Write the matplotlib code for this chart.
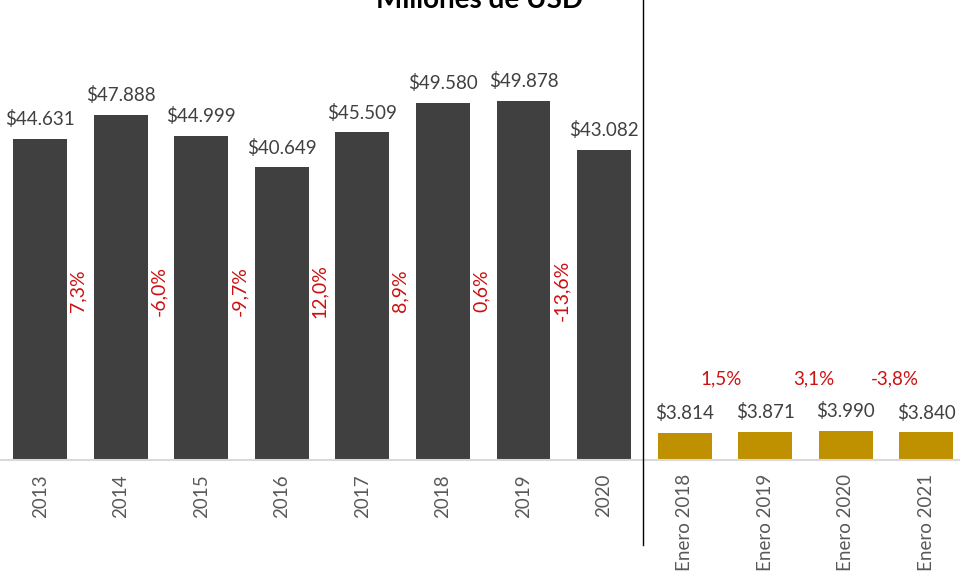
import matplotlib.pyplot as plt
from matplotlib.lines import Line2D

categories = ['2013', '2014', '2015', '2016', '2017', '2018', '2019', '2020',
              'Enero 2018', 'Enero 2019', 'Enero 2020', 'Enero 2021']
values = [44631, 47888, 44999, 40649, 45509, 49580, 49878, 43082,
          3814, 3871, 3990, 3840]
annual_growth = ['7,3%', '-6,0%', '-9,7%', '12,0%', '8,9%', '0,6%', '-13,6%']
monthly_growth = ['1,5%', '3,1%', '-3,8%']

dark = '#404040'
gold = '#bf9000'
red = '#cc1111'
colors = [dark] * 8 + [gold] * 4

plt.rcParams['font.family'] = ['Lato', 'DejaVu Sans']

fig = plt.figure(figsize=(9.6, 5.74), dpi=100)
ax = fig.add_axes([0, 114 / 574, 1, 432 / 574])

x = range(len(categories))
ax.bar(x, values, width=0.67, color=colors)
ax.set_xlim(-0.5, 11.42)
ax.set_ylim(0, 60000)

for i, v in enumerate(values):
    ax.text(i, v + 1500, '$' + f'{v:,}'.replace(',', '.'), ha='center', va='bottom',
            fontsize=13.5, color='#404040')

# variaciones anuales, entre barras
for i, g in enumerate(annual_growth):
    ax.text(i + 0.47, 23500, g, rotation=90, ha='center', va='center',
            fontsize=14, color=red)

# variaciones de enero (un poco corridas a la derecha)
for i, g in enumerate(monthly_growth):
    ax.text(8 + i + 0.45 + 0.16 * (i > 0), 11300, g, ha='center', va='center',
            fontsize=13.5, color=red)

ax.set_xticks(list(x))
ax.set_xticklabels(categories, rotation=90, fontsize=13.5, color='#595959')
ax.tick_params(axis='x', length=0, pad=10)
ax.set_yticks([])
for s in ['top', 'right', 'left']:
    ax.spines[s].set_visible(False)
ax.spines['bottom'].set_color('#d9d9d9')
ax.spines['bottom'].set_linewidth(1.5)

fig.lines.append(Line2D([643 / 960, 643 / 960], [1, 1 - 545 / 574], transform=fig.transFigure,
                        color='black', linewidth=1))
fig.text(0.5, 1.0, 'Millones de USD', ha='center', va='center', fontsize=20,
         fontweight='bold', color='black')

fig.savefig('out.png', dpi=100)
